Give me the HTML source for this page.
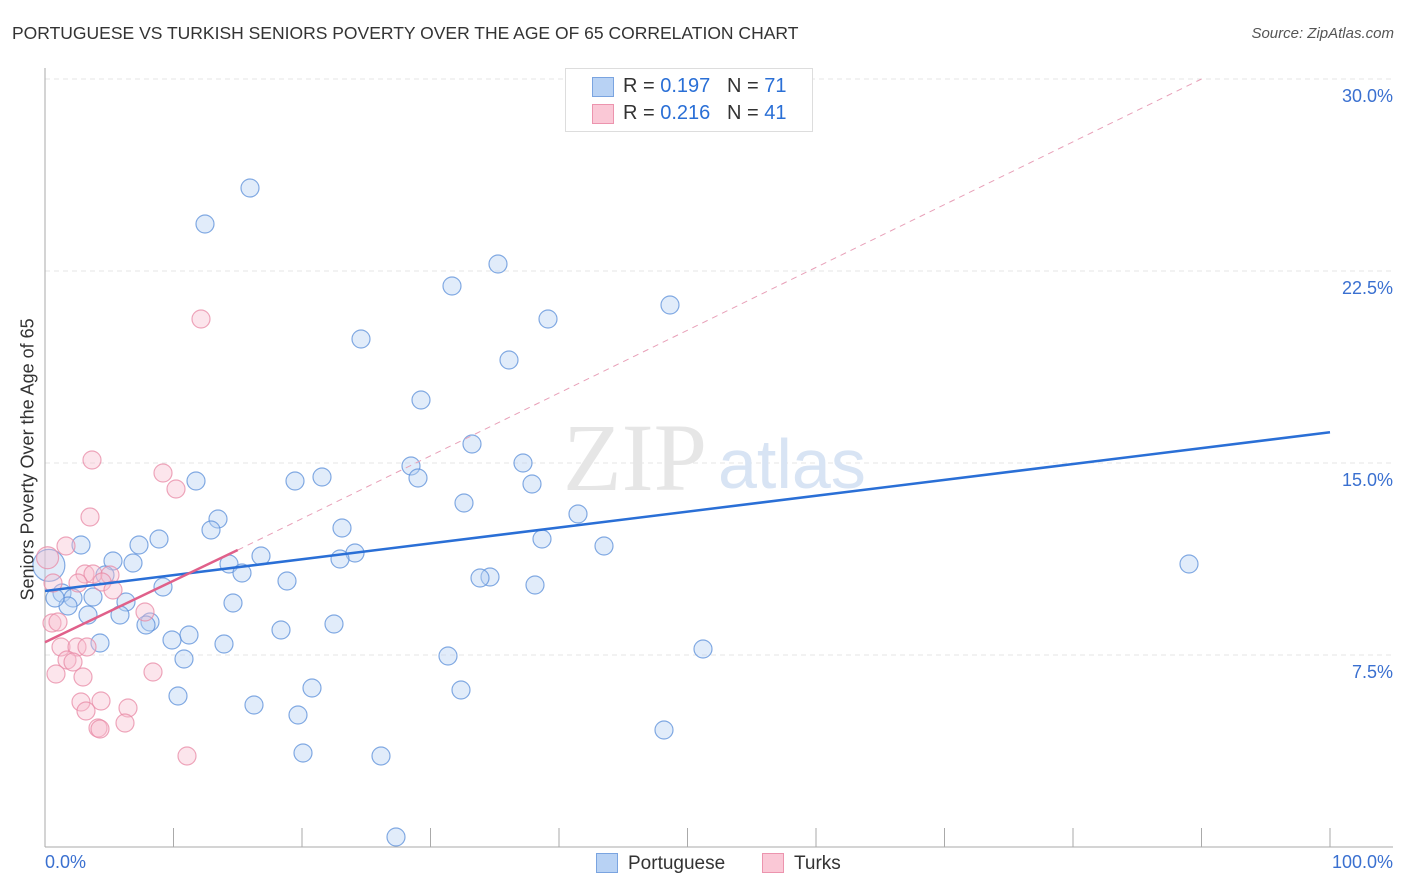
<!DOCTYPE html>
<html><head><meta charset="utf-8"><style>
body{margin:0;background:#fff;font-family:"Liberation Sans",sans-serif}
#wrap{position:relative;width:1406px;height:892px}
.t{position:absolute;white-space:nowrap}
</style></head><body>
<div id="wrap">
<div class="t" style="left:12px;top:23px;font-size:17.5px;color:#333">PORTUGUESE VS TURKISH SENIORS POVERTY OVER THE AGE OF 65 CORRELATION CHART</div>
<div class="t" style="right:12px;top:25px;font-size:15px;color:#555;font-style:italic">Source: ZipAtlas.com</div>
<svg id="svg" width="1406" height="892" style="position:absolute;left:0;top:0"></svg>
</div>
<script>
const yTicks=[7.5,15,22.5,30];
const xTickVals=[0,10,20,30,40,50,60,70,80,90,100];
const bluePts=[[250,188],[205,224],[498,264],[452,286],[548,319],[670,305],[361,339],[509,360],[421,400],[472,444],[411,466],[523,463],[418,478],[532,484],[322,477],[295,481],[196,481],[464,503],[218,519],[211,530],[342,528],[578,514],[542,539],[604,546],[1189,564],[159,539],[139,545],[81,545],[113,561],[261,556],[355,553],[340,559],[229,564],[133,563],[105,575],[242,573],[490,577],[480,578],[287,581],[163,587],[535,585],[62,593],[93,597],[73,598],[126,602],[233,603],[68,606],[88,615],[120,615],[150,622],[146,625],[334,624],[281,630],[189,635],[172,640],[224,644],[100,643],[703,649],[448,656],[184,659],[312,688],[461,690],[178,696],[254,705],[298,715],[664,730],[303,753],[381,756],[396,837],[55,598]];
const pinkPts=[[92,460],[163,473],[176,489],[90,517],[201,319],[66,546],[85,574],[93,574],[110,575],[53,583],[78,583],[102,582],[113,590],[52,623],[58,622],[145,612],[61,647],[77,647],[87,647],[67,660],[73,662],[56,674],[83,677],[153,672],[81,702],[101,701],[86,711],[128,708],[125,723],[98,728],[100,729],[187,756]];
const X0=45,X1=1330,Y0=847,YS=25.6;
const toX=v=>X0+v*(X1-X0)/100, toY=v=>Y0-v*YS;
const blueX=bluePts.map(p=>(p[0]-X0)*100/(X1-X0)), blueY=bluePts.map(p=>(Y0-p[1])/YS);
const pinkX=pinkPts.map(p=>(p[0]-X0)*100/(X1-X0)), pinkY=pinkPts.map(p=>(Y0-p[1])/YS);
const blueTrend=[[0,10.0],[100,16.2]];
const pinkTrend=[[0,8.0],[15,11.6]];
const pinkDash=[[15,11.6],[90,30]];
const svg=document.getElementById('svg');const NS='http://www.w3.org/2000/svg';
function el(t,a){const e=document.createElementNS(NS,t);for(const k in a)e.setAttribute(k,a[k]);svg.appendChild(e);return e;}
yTicks.forEach(v=>{const l=el('line',{x1:45,x2:1393,y1:toY(v),y2:toY(v),stroke:'#e6e6e6','stroke-dasharray':'5,4'});


const t=el('text',{x:1393,y:toY(v)+23,'text-anchor':'end','font-size':18,fill:'#3a70d0','font-family':'Liberation Sans'});t.textContent=v.toFixed(1)+'%';

});
el('line',{x1:45,x2:45,y1:68,y2:847,stroke:'#aaa'});
el('line',{x1:45,x2:1393,y1:847,y2:847,stroke:'#aaa'});
xTickVals.forEach(v=>{const l=el('line',{x1:toX(v),x2:toX(v),y1:828,y2:847,stroke:'#aaa'});

});
const wm=el('text',{x:635,y:490,'text-anchor':'middle','font-size':96,fill:'#e6e6e6','font-family':'Liberation Serif'});wm.textContent='ZIP';
const wm2=el('text',{x:718,y:488,'text-anchor':'start','font-size':70,fill:'#d8e4f4','font-family':'Liberation Sans'});wm2.textContent='atlas';
function dot(x,y,c,s,r){const d=el('circle',{cx:toX(x),cy:toY(y),r:r||9,fill:c,'fill-opacity':0.4,stroke:s,'stroke-opacity':0.75,'stroke-width':1.2});return d;}
blueX.forEach((x,i)=>{const d=dot(x,blueY[i],'#b5d0f2','#5b8fd9');

});
const big=dot(0.3,11.0,'#b5d0f2','#5b8fd9',16);


pinkX.forEach((x,i)=>{const d=dot(x,pinkY[i],'#f7bfd0','#e88aa6');

});
const bigp=dot(0.2,11.3,'#f7bfd0','#e88aa6',11);


const pd=el('line',{x1:toX(pinkDash[0][0]),y1:toY(pinkDash[0][1]),x2:toX(pinkDash[1][0]),y2:toY(pinkDash[1][1]),stroke:'#e8a0b8','stroke-dasharray':'6,5','stroke-width':1});


const bt=el('line',{x1:toX(blueTrend[0][0]),y1:toY(blueTrend[0][1]),x2:toX(blueTrend[1][0]),y2:toY(blueTrend[1][1]),stroke:'#2a6fd6','stroke-width':2.5});


const pt=el('line',{x1:toX(pinkTrend[0][0]),y1:toY(pinkTrend[0][1]),x2:toX(pinkTrend[1][0]),y2:toY(pinkTrend[1][1]),stroke:'#e0608a','stroke-width':2.5});


</script>
<div class="t" style="left:-82px;top:445px;font-size:18px;color:#333;transform:rotate(-90deg);width:220px;text-align:center;margin-top:35px">Seniors Poverty Over the Age of 65</div>
<div class="t" style="left:45px;top:852px;font-size:18px;color:#3a70d0">0.0%</div>
<div class="t" style="right:13px;top:852px;font-size:18px;color:#3a70d0">100.0%</div>
<div style="position:absolute;left:565px;top:68px;width:246px;height:62px;border:1px solid #ddd;background:#fff;font-size:20px;color:#333">
<div style="position:absolute;left:26px;top:8px;width:20px;height:18px;background:#b8d2f4;border:1px solid #7aa4e0"></div>
<div class="t" style="left:57px;top:6px">R = <span style="color:#2a6fd6">0.197</span>&nbsp;&nbsp;&nbsp;N = <span style="color:#2a6fd6">71</span></div>
<div style="position:absolute;left:26px;top:35px;width:20px;height:18px;background:#fac8d6;border:1px solid #ec94ae"></div>
<div class="t" style="left:57px;top:33px">R = <span style="color:#2a6fd6">0.216</span>&nbsp;&nbsp;&nbsp;N = <span style="color:#2a6fd6">41</span></div>
</div>
<div style="position:absolute;left:596px;top:853px;font-size:19px;color:#333">
<div style="position:absolute;left:0;top:0;width:20px;height:18px;background:#b8d2f4;border:1px solid #7aa4e0"></div>
<div class="t" style="left:32px;top:0">Portuguese</div>
<div style="position:absolute;left:166px;top:0;width:20px;height:18px;background:#fac8d6;border:1px solid #ec94ae"></div>
<div class="t" style="left:198px;top:0">Turks</div>
</div>
</body></html>
